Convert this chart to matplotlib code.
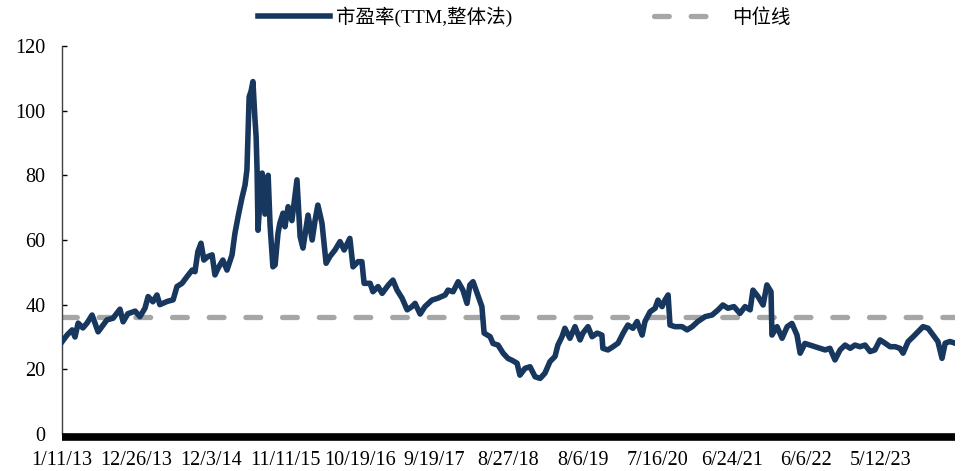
import matplotlib
matplotlib.use("Agg")
import matplotlib.pyplot as plt
from matplotlib.lines import Line2D

# ---- data (trading-day index, value) ----
day_index = [0, 16, 32, 41, 51, 66, 79, 95, 104, 114, 126, 142, 161, 183, 193, 208, 231, 246, 262, 272,
             287, 300, 309, 332, 351, 363, 379, 395, 411, 420, 429, 439, 448, 461, 474, 483, 493, 508, 521, 537,
             546, 556, 568, 578, 584, 591, 597, 603, 609, 613, 616, 619, 625, 632, 641, 651, 657, 666, 673, 682,
             688, 698, 704, 714, 726, 742, 752, 761, 777, 790, 799, 808, 821, 834, 846, 862, 878, 891, 909, 919,
             935, 947, 954, 973, 982, 998, 1011, 1030, 1045, 1058, 1074, 1090, 1105, 1115, 1131, 1146, 1168, 1187, 1210, 1219,
             1235, 1251, 1266, 1279, 1288, 1298, 1311, 1326, 1333, 1352, 1361, 1377, 1393, 1408, 1421, 1437, 1446, 1462, 1478, 1494,
             1510, 1525, 1541, 1557, 1566, 1579, 1588, 1604, 1620, 1636, 1645, 1661, 1674, 1690, 1705, 1708, 1724, 1740, 1756, 1772,
             1787, 1803, 1816, 1832, 1841, 1857, 1873, 1882, 1895, 1904, 1914, 1920, 1936, 1958, 1974, 1990, 2008, 2031, 2053, 2072,
             2087, 2103, 2122, 2141, 2157, 2173, 2182, 2198, 2214, 2226, 2239, 2242, 2258, 2274, 2290, 2305, 2321, 2331, 2346, 2362,
             2378, 2394, 2410, 2425, 2441, 2457, 2473, 2489, 2504, 2520, 2536, 2552, 2567, 2583, 2599, 2615, 2631, 2646, 2656, 2672,
             2688, 2703, 2719, 2735, 2751, 2766, 2779, 2789, 2804, 2820]
pe_ttm = [28.5, 30.6, 32.2, 30.0, 34.3, 32.8, 34.3, 36.8, 34.3, 31.6, 33.2, 35.3, 35.8, 38.6, 34.7, 37.2, 38.0, 36.3, 38.9, 42.5,
          40.9, 43.0, 40.0, 41.0, 41.5, 45.6, 46.6, 48.7, 50.7, 50.2, 56.4, 59.0, 53.8, 54.9, 55.4, 49.2, 51.3, 53.8, 50.7, 55.4,
          62.0, 67.2, 72.9, 77.0, 81.7, 104.3, 106.0, 109.0, 98.0, 92.0, 81.7, 63.0, 72.0, 80.7, 68.0, 80.0, 64.7, 51.7, 52.3, 62.0,
          65.2, 68.3, 64.1, 70.3, 66.0, 78.6, 61.0, 57.5, 67.7, 60.0, 66.0, 70.8, 65.2, 52.8, 54.9, 56.9, 59.5, 56.9, 60.5, 51.7,
          53.3, 53.3, 46.6, 46.6, 44.0, 45.6, 43.5, 46.0, 47.6, 44.5, 42.0, 38.4, 39.4, 40.4, 37.1, 39.4, 41.4, 42.0, 43.0, 44.5,
          44.0, 47.1, 44.5, 40.4, 46.1, 47.1, 43.5, 39.4, 31.2, 30.1, 28.0, 27.5, 25.0, 23.4, 22.8, 21.9, 18.2, 20.3, 20.8, 17.7,
          17.2, 18.8, 22.4, 24.0, 27.5, 30.1, 32.7, 29.6, 33.2, 29.1, 31.2, 33.2, 30.1, 31.2, 30.6, 26.5, 26.0, 27.0, 28.1, 31.2,
          33.7, 32.7, 34.8, 30.6, 34.8, 37.8, 38.9, 41.4, 39.4, 41.4, 43.0, 33.7, 33.2, 33.2, 32.2, 33.2, 34.8, 36.3, 36.8, 38.4,
          39.9, 38.9, 39.4, 37.3, 39.4, 38.4, 44.5, 42.5, 39.9, 46.1, 44.0, 30.6, 33.2, 29.6, 33.2, 34.2, 30.6, 25.0, 28.0, 27.5,
          27.0, 26.5, 26.0, 26.5, 22.9, 26.0, 27.5, 26.5, 27.5, 27.0, 27.5, 25.5, 26.0, 29.1, 28.1, 27.0, 27.0, 26.5, 25.0, 28.6,
          30.1, 31.6, 33.2, 32.7, 30.6, 28.6, 23.4, 28.1, 28.6, 28.1]
median_value = 36.2
tick_labels = ["1/11/13", "12/26/13", "12/3/14", "11/11/15", "10/19/16", "9/19/17",
               "8/27/18", "8/6/19", "7/16/20", "6/24/21", "6/6/22", "5/12/23"]
tick_step = 235
n_days = 2820
yticks = [0, 20, 40, 60, 80, 100, 120]

series_name = "市盈率(TTM,整体法)"
median_name = "中位线"

navy = "#17375E"
grey = "#A6A6A6"

fig = plt.figure(figsize=(9.62, 4.71), dpi=100)
ax = fig.add_axes([62/962, 37/471, (955-62)/962, (434-46)/471])

ax.plot(day_index, pe_ttm, color=navy, lw=4.0, solid_joinstyle="round", zorder=3)
ax.plot([0, n_days], [median_value, median_value], color=grey, lw=3.8,
        dashes=(2.8, 4.15), dash_capstyle="round", zorder=2)

ax.set_xlim(0, n_days)
ax.set_ylim(0, 120)
ax.set_yticks(yticks)
ax.set_xticks([i * tick_step for i in range(len(tick_labels))])
ax.set_xticklabels(tick_labels)

for s in ["top", "right"]:
    ax.spines[s].set_visible(False)
ax.spines["left"].set_color("#404040")
ax.spines["left"].set_linewidth(1.0)
ax.spines["bottom"].set_color("black")
ax.spines["bottom"].set_linewidth(5.5)
ax.spines["bottom"].set_capstyle("butt")
ax.spines["bottom"].set_position(("outward", 2.2))

serif = ["Liberation Serif", "DejaVu Serif"]
ax.tick_params(axis="y", direction="in", length=3.6, width=1, pad=12, labelsize=14.5)
ax.tick_params(axis="x", length=0, pad=10, labelsize=14.5)
for lab in ax.get_xticklabels() + ax.get_yticklabels():
    lab.set_family(serif)

handles = [Line2D([], [], color=navy, lw=4.0),
           Line2D([], [], color=grey, lw=3.8, dashes=(2.8, 4.15), dash_capstyle="round")]
leg = fig.legend(handles, [series_name, median_name], ncol=2, loc="center",
                 bbox_to_anchor=(0.545, 0.964), frameon=False,
                 handlelength=3.7, handletextpad=0.3, columnspacing=7.3,
                 prop={"family": ["Liberation Serif", "Noto Sans CJK SC"], "size": 14})

fig.savefig("out.png", dpi=100)
